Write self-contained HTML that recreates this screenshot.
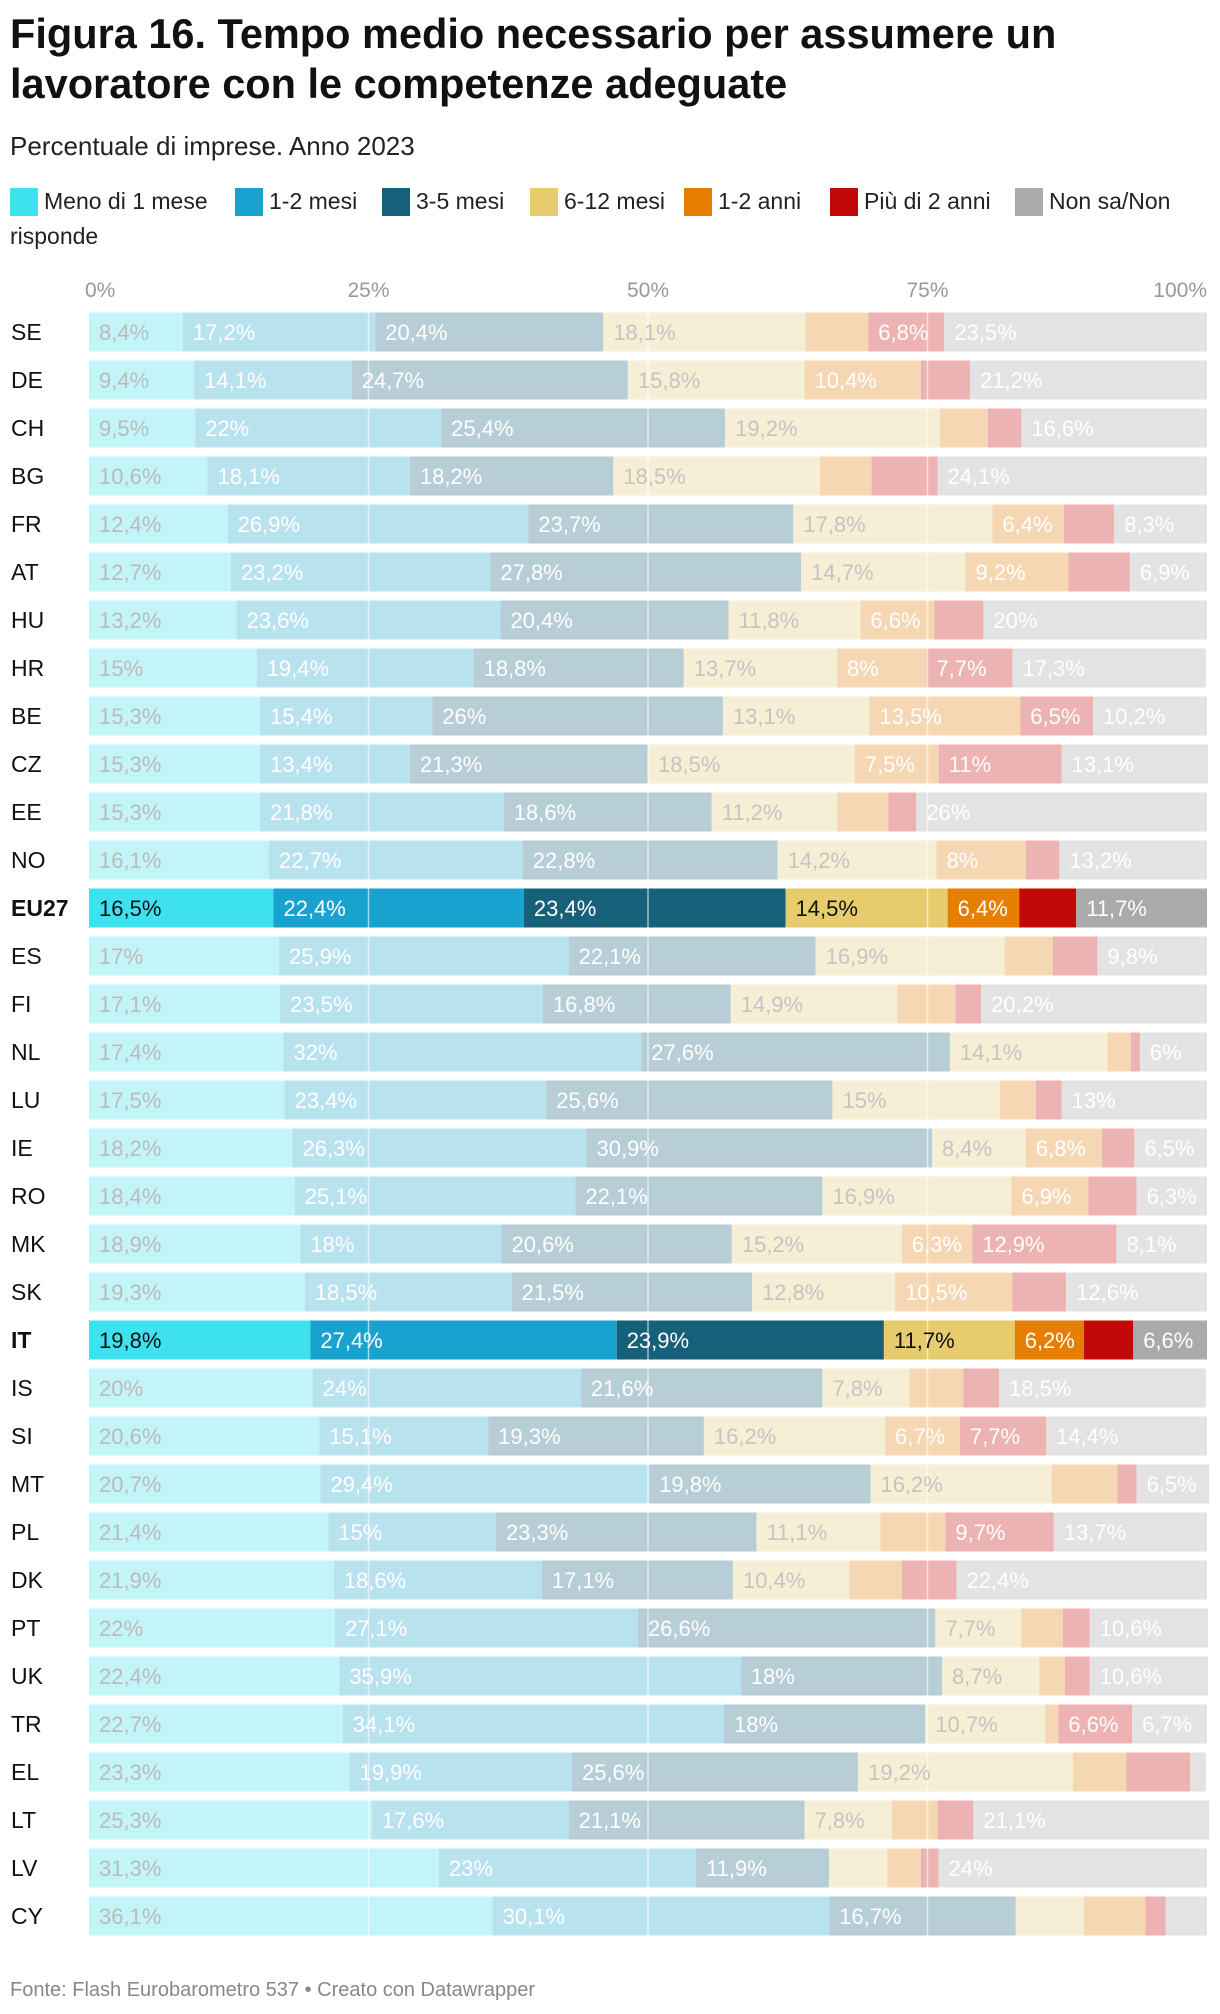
<!DOCTYPE html>
<html><head><meta charset="utf-8">
<style>
html,body{margin:0;padding:0;background:#fff;width:1220px;height:2014px;overflow:hidden;font-family:"Liberation Sans",sans-serif;}
svg{display:block}
</style></head>
<body>
<svg id="chart" width="1220" height="2014" viewBox="0 0 1220 2014">
<text x="10" y="48" font-size="41.5" font-weight="bold" fill="#111">Figura 16. Tempo medio necessario per assumere un</text>
<text x="10" y="98" font-size="41.5" font-weight="bold" fill="#111">lavoratore con le competenze adeguate</text>
<text x="10" y="155" font-size="26" fill="#222">Percentuale di imprese. Anno 2023</text>
<g id="legend"></g>
<g id="axis"></g>
<g id="bars"></g>
<g id="grid"></g>
<g id="labels"></g>
<text x="10" y="1996" font-size="20" fill="#888">Fonte: Flash Eurobarometro 537 • Creato con Datawrapper</text>
</svg>
<script>
const categories=["SE","DE","CH","BG","FR","AT","HU","HR","BE","CZ","EE","NO","EU27","ES","FI","NL","LU","IE","RO","MK","SK","IT","IS","SI","MT","PL","DK","PT","UK","TR","EL","LT","LV","CY"];
const seriesNames=["Meno di 1 mese","1-2 mesi","3-5 mesi","6-12 mesi","1-2 anni","Più di 2 anni","Non sa/Non risponde"];
const meno1=[8.4,9.4,9.5,10.6,12.4,12.7,13.2,15,15.3,15.3,15.3,16.1,16.5,17,17.1,17.4,17.5,18.2,18.4,18.9,19.3,19.8,20,20.6,20.7,21.4,21.9,22,22.4,22.7,23.3,25.3,31.3,36.1];
const mesi12=[17.2,14.1,22,18.1,26.9,23.2,23.6,19.4,15.4,13.4,21.8,22.7,22.4,25.9,23.5,32,23.4,26.3,25.1,18,18.5,27.4,24,15.1,29.4,15,18.6,27.1,35.9,34.1,19.9,17.6,23,30.1];
const mesi35=[20.4,24.7,25.4,18.2,23.7,27.8,20.4,18.8,26,21.3,18.6,22.8,23.4,22.1,16.8,27.6,25.6,30.9,22.1,20.6,21.5,23.9,21.6,19.3,19.8,23.3,17.1,26.6,18,18,25.6,21.1,11.9,16.7];
const mesi612=[18.1,15.8,19.2,18.5,17.8,14.7,11.8,13.7,13.1,18.5,11.2,14.2,14.5,16.9,14.9,14.1,15,8.4,16.9,15.2,12.8,11.7,7.8,16.2,16.2,11.1,10.4,7.7,8.7,10.7,19.2,7.8,5.2,6.1];
const anni12=[5.6,10.4,4.3,4.6,6.4,9.2,6.6,8,13.5,7.5,4.6,8,6.4,4.3,5.2,2.1,3.2,6.8,6.9,6.3,10.5,6.2,4.8,6.7,5.9,5.8,4.7,3.7,2.3,1.2,4.8,4.1,3,5.5];
const oltre2=[6.8,4.4,3,5.9,4.5,5.5,4.4,7.7,6.5,11,2.5,3,5.1,4,2.3,0.8,2.3,2.9,4.3,12.9,4.8,4.4,3.2,7.7,1.7,9.7,4.9,2.4,2.2,6.6,5.7,3.2,1.6,1.8];
const nonsa=[23.5,21.2,16.6,24.1,8.3,6.9,20,17.3,10.2,13.1,26,13.2,11.7,9.8,20.2,6,13,6.5,6.3,8.1,12.6,6.6,18.5,14.4,6.5,13.7,22.4,10.6,10.6,6.7,1.4,21.1,24,3.7];
const highlighted=["EU27","IT"];
const tickValues=[0,25,50,75,100];
const tickLabels=["0%","25%","50%","75%","100%"];

const series=[meno1,mesi12,mesi35,mesi612,anni12,oltre2,nonsa];
const strong=["#3ee1ee","#18a2cf","#17607a","#e6cc6c","#e67e00","#c30808","#aaaaaa"];
const faded=["#c3f4f8","#b9e2ef","#b7ced6","#f6efd5","#f6d7b3","#ecb3b2","#e3e3e3"];
const strongText=["#111","#fff","#fff","#111","#fff","#fff","#fff"];
const fadedText=["#bbb","#fff","#fff","#c4c4c4","#fff","#fff","#fff"];
const X0=89,X1=1207,Y0=332,PITCH=48.0,BH=39;
const xs=v=>X0+(X1-X0)*v/100;
const ys=i=>Y0+i*PITCH;
const NS="http://www.w3.org/2000/svg";
function mk(tag,attrs,parent){const e=document.createElementNS(NS,tag);for(const k in attrs)e.setAttribute(k,attrs[k]);parent.appendChild(e);return e;}

const lg=document.getElementById('legend');
const legendX=[10,235,382,530,684,830,1015];
seriesNames.forEach((n,i)=>{
  const r=mk('rect',{x:legendX[i],y:188,width:28,height:28,fill:strong[i]},lg);
  
  
  const label=i===6?"Non sa/Non":n;
  const t=mk('text',{x:legendX[i]+34,y:209,'font-size':23,fill:'#222'},lg);
  t.textContent=label;
  
  
});
const lt=mk('text',{x:10,y:244,'font-size':23,fill:'#222'},lg);
lt.textContent="risponde";



const ax=document.getElementById('axis');
tickValues.forEach((v,i)=>{
  const anchor=i===0?'start':(i===tickValues.length-1?'end':'middle');
  const t=mk('text',{x:xs(v)+(i===0?-4:0),y:297,'font-size':21,fill:'#999','text-anchor':anchor},ax);
  t.textContent=tickLabels[i];
  
  
});

const bg=document.getElementById('bars'),lb=document.getElementById('labels'),gr=document.getElementById('grid');
categories.forEach((c,i)=>{
  const hi=highlighted.includes(c);
  const cy=ys(i);
  const rl=mk('text',{x:11,y:cy+8,'font-size':23,fill:'#111','font-weight':hi?'bold':'normal'},lb);
  rl.textContent=c;
  
  
  let acc=0;
  series.forEach((s,k)=>{
    const v=s[i];
    const r=mk('rect',{x:xs(acc),y:cy-BH/2,width:xs(acc+v)-xs(acc),height:BH,fill:hi?strong[k]:faded[k]},bg);
    
    
    const thr=k===6?6:6.2;
    if(v>=thr){
      const t=mk('text',{x:xs(acc)+10,y:cy+8,'font-size':22,fill:hi?strongText[k]:fadedText[k]},lb);
      t.textContent=String(v).replace('.',',')+'%';
      
      
    }
    acc+=v;
  });
});
[25,50,75].forEach(v=>{
  const l=mk('line',{x1:xs(v),x2:xs(v),y1:Y0-BH/2,y2:ys(categories.length-1)+BH/2,stroke:'#fff','stroke-opacity':0.6,'stroke-width':1.5},gr);
  
  
});
</script>
</body></html>
